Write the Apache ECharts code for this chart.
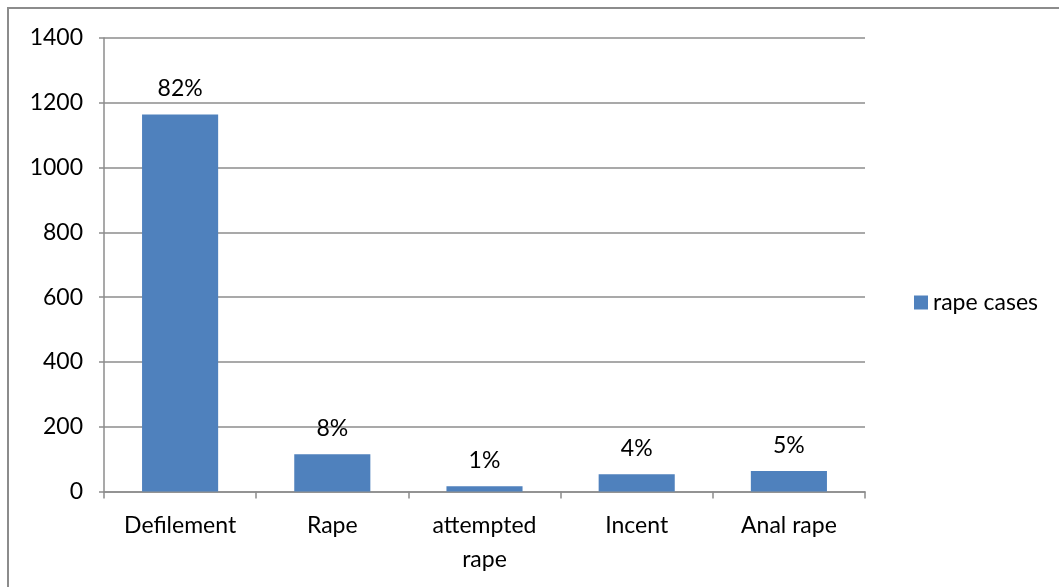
<!DOCTYPE html>
<html>
<head>
<meta charset="utf-8">
<style>
  html, body { margin: 0; padding: 0; background: #fff; }
  #chart { width: 1059px; height: 587px; }
</style>
<script src="https://cdn.jsdelivr.net/npm/echarts@6/dist/echarts.min.js"></script>
</head>
<body>
<div id="chart"></div>
<script>
// Reported rape cases by offence type
const categories = ['Defilement', 'Rape', 'attempted\nrape', 'Incent', 'Anal rape'];
const rapeCases = [1164, 115, 16, 53, 63];
const shareLabels = ['82%', '8%', '1%', '4%', '5%'];
const yTicks = [0, 200, 400, 600, 800, 1000, 1200, 1400];

const FONT = 'Lato, "Open Sans", sans-serif';
const FS = 23;
const chart = echarts.init(document.getElementById('chart'));

chart.setOption({
  animation: false,
  backgroundColor: '#fff',
  graphic: [{
    type: 'rect',
    shape: { x: 8, y: 8, width: 1100, height: 640 },
    style: { fill: 'none', stroke: '#8c8c8c', lineWidth: 2 },
    silent: true
  }],
  grid: { left: 104, right: 194, top: 38, bottom: 95.5 },
  legend: {
    data: ['rape cases'],
    right: 16,
    top: 286,
    itemWidth: 14,
    itemHeight: 14,
    itemGap: 8,
    icon: 'rect',
    textStyle: { fontFamily: FONT, fontSize: FS, color: '#000' }
  },
  xAxis: {
    type: 'category',
    data: categories,
    axisLine: { lineStyle: { color: '#8c8c8c', width: 1.5 } },
    axisTick: { show: true, length: 7, lineStyle: { color: '#8c8c8c', width: 1.5 } },
    axisLabel: {
      fontFamily: FONT, fontSize: FS, color: '#000',
      margin: 17, lineHeight: 34, interval: 0
    }
  },
  yAxis: {
    type: 'value',
    min: 0,
    max: 1400,
    interval: 200,
    axisLine: { show: true, lineStyle: { color: '#8c8c8c', width: 1.5 } },
    axisTick: { show: true, length: 5, lineStyle: { color: '#8c8c8c', width: 1.5 } },
    splitLine: { lineStyle: { color: '#8c8c8c', width: 1.5 } },
    axisLabel: {
      fontFamily: FONT, fontSize: FS, color: '#000', margin: 21,
      formatter: v => (yTicks.includes(v) ? String(v) : '')
    }
  },
  series: [{
    name: 'rape cases',
    type: 'bar',
    data: rapeCases,
    barWidth: '50%',
    itemStyle: { color: '#4f81bd' },
    label: {
      show: true,
      position: 'top',
      distance: 14,
      fontFamily: FONT,
      fontSize: FS,
      color: '#000',
      formatter: p => shareLabels[p.dataIndex]
    }
  }]
});
</script>
</body>
</html>
